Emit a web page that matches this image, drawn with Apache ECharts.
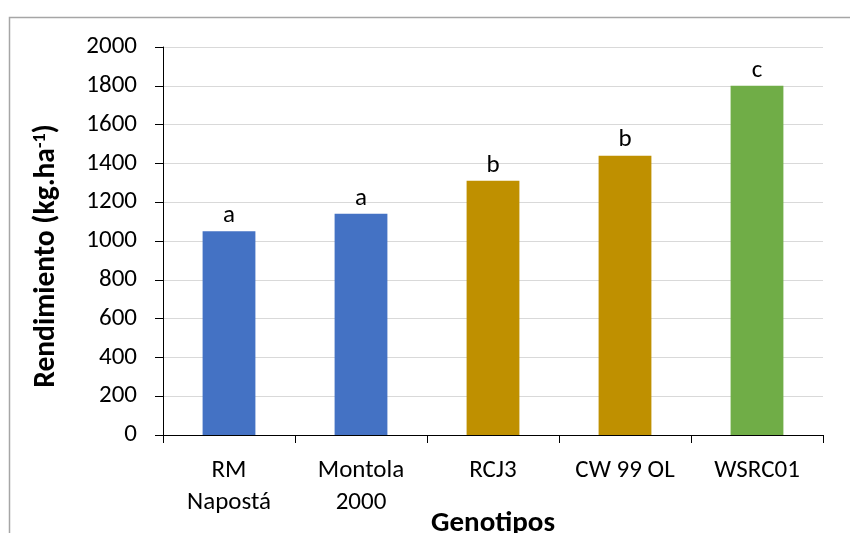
<!DOCTYPE html>
<html><head><meta charset="utf-8">
<script src="https://cdn.jsdelivr.net/npm/echarts@6/dist/echarts.min.js"></script>
<style>html,body{margin:0;padding:0;background:#fff}#c{width:850px;height:533px}</style>
</head><body><div id="c"></div>
<script>
const categories = ['RM\nNapostá', 'Montola\n2000', 'RCJ3', 'CW 99 OL', 'WSRC01'];
const values = [1050, 1140, 1310, 1440, 1800];
const letters = ['a', 'a', 'b', 'b', 'c'];
const colors = ['#4472C4', '#4472C4', '#BF9000', '#BF9000', '#70AD47'];
const yTicks = [0, 200, 400, 600, 800, 1000, 1200, 1400, 1600, 1800, 2000];

const font = 'Carlito, Lato, "Open Sans", sans-serif';
const chart = echarts.init(document.getElementById('c'));
chart.setOption({
  animation: false,
  graphic: [{type: 'rect', left: 7, top: 15, shape: {width: 900, height: 600}, style: {fill: 'none', stroke: '#A6A6A6', lineWidth: 1.5}, silent: true, z: -10}],
  grid: {left: 163, right: 27, top: 47, bottom: 98, outerBoundsMode: 'none', containLabel: false},
  xAxis: {
    type: 'category', data: categories,
    axisLine: {lineStyle: {color: '#000', width: 1}},
    axisTick: {show: true, length: 8, alignWithLabel: false, lineStyle: {color: '#000'}},
    axisLabel: {color: '#000', fontFamily: font, fontSize: 25, lineHeight: 32, margin: 20, interval: 0},
    name: 'Genotipos', nameLocation: 'middle', nameGap: 74, nameMoveOverlap: false,
    nameTextStyle: {color: '#000', fontFamily: font, fontSize: 29, fontWeight: 'bold'}
  },
  yAxis: {
    type: 'value', min: yTicks[0], max: yTicks[yTicks.length - 1], interval: 200,
    axisLine: {show: true, lineStyle: {color: '#000', width: 1}},
    axisTick: {show: true, length: 8, lineStyle: {color: '#000'}},
    axisLabel: {color: '#000', fontFamily: font, fontSize: 25, margin: 26, formatter: v => String(v)},
    splitLine: {lineStyle: {color: '#D9D9D9', width: 1}},
    name: '{a|Rendimiento (kg.ha}{s|-1}{a|)}', nameLocation: 'middle', nameGap: 100, nameMoveOverlap: false,
    nameTextStyle: {
      padding: [0, 30, 0, 0],
      rich: {
        a: {color: '#000', fontFamily: font, fontSize: 29.5, fontWeight: 'bold'},
        s: {color: '#000', fontFamily: font, fontSize: 18, fontWeight: 'bold', verticalAlign: 'top', padding: [0, 0, 14, 0]}
      }
    }
  },
  series: [{
    type: 'bar', barWidth: '40%',
    data: values.map((v, i) => ({value: v, itemStyle: {color: colors[i]}, label: {formatter: letters[i]}})),
    label: {show: true, position: 'top', distance: 3, color: '#000', fontFamily: font, fontSize: 25}
  }]
});
</script></body></html>
